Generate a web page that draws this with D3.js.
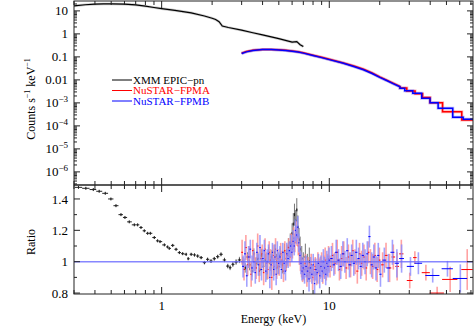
<!DOCTYPE html>
<html><head><meta charset="utf-8">
<script src="https://cdn.jsdelivr.net/npm/d3@7"></script>
<style>
body{margin:0;background:#fff}
svg{display:block}
text{font-family:"Liberation Serif","Times New Roman",serif;fill:#000}
</style>
</head><body>
<svg id="c" width="474" height="327"></svg>
<script>
// ---------------- data ----------------
// XMM EPIC-pn spectrum (keV, counts/s/keV)
const xmmSpecE = [0.3,0.35,0.4,0.45,0.5,0.6,0.7,0.8,0.9,1.0,1.2,1.5,1.8,2.0,2.1,2.2,2.3,2.5,3.0,3.5,4.0,5.0,6.0,6.4,6.7,7.0];
const xmmSpecC = [16.5,18.5,19.5,20,20,19.5,18.2,16,14,12.5,10.5,8.2,6.0,4.8,4.2,3.4,2.2,1.9,1.45,1.12,0.9,0.62,0.44,0.46,0.34,0.28];

// NuSTAR spectra, fine-binned part
const nuSpecE = [3.0,3.2,3.5,4.0,4.5,5.0,5.5,6.0,6.5,7.0,8.0,9.0,10,12,14,16,18,20,22,24,26.4];
const fpmaSpecC = [0.145,0.17,0.195,0.212,0.212,0.205,0.195,0.18,0.168,0.15,0.118,0.096,0.079,0.056,0.040,0.029,0.020,0.0135,0.0098,0.0072,0.0052];
const fpmbSpecC = [0.14,0.165,0.19,0.207,0.208,0.2,0.19,0.176,0.163,0.146,0.114,0.093,0.076,0.054,0.038,0.0275,0.019,0.0128,0.0094,0.0069,0.0050];
// NuSTAR coarse bins [lo, hi, counts]
const fpmaBins = [[26.4,29,0.0044],[29,32.5,0.0033],[32.5,36,0.0025],[36,39.9,0.0017],[39.9,47.4,0.00102],[47.4,61.7,0.00041],[61.7,72,0.00018]];
const fpmbBins = [[26.4,28.2,0.0043],[28.2,31.5,0.0034],[31.5,35.6,0.0026],[35.6,39.9,0.0016],[39.9,44.6,0.00102],[44.6,54.5,0.00058],[54.5,62.9,0.00024],[62.9,72,0.000195]];

// XMM ratio residuals
const xmmRatE = [0.319,0.353,0.391,0.424,0.461,0.498,0.534,0.572,0.604,0.641,0.687,0.719,0.753,0.788,0.825,0.856,0.904,0.946,0.978,1.038,1.086,1.11,1.164,1.219,1.276,1.335,1.40,1.44,1.50,1.57,1.64,1.72,1.80,1.88,1.97,2.06,2.16,2.26,2.37,2.48,2.56,2.66,2.78,2.91,
  3.05,3.15,3.25,3.35,3.45,3.55,3.65,3.75,3.85,3.95,4.05,4.15,4.25,4.35,4.45,4.55,4.65,4.75,4.85,4.95,5.1,5.25,5.4,5.55,5.7,5.85,6.0,6.1,6.2,6.3,6.4,6.5,6.6,6.7,6.85,7.0,7.2,7.4,7.6];
const xmmRatR = [1.474,1.468,1.46,1.449,1.436,1.40,1.357,1.30,1.282,1.254,1.235,1.235,1.218,1.197,1.181,1.181,1.154,1.133,1.128,1.107,1.094,1.085,1.104,1.079,1.058,1.051,1.047,1.019,1.047,1.043,1.036,1.026,0.994,1.015,1.004,1.019,1.032,1.047,1.011,0.972,0.962,0.983,0.998,1.011,
  1.0,0.96,1.03,0.98,0.94,1.05,0.99,1.02,0.95,1.04,0.97,1.01,0.93,1.05,0.99,1.03,0.96,1.06,1.0,0.97,1.04,0.98,1.06,1.02,1.09,1.12,1.18,1.24,1.3,1.26,1.33,1.22,1.14,1.08,1.02,0.98,1.03,0.96,1.0];
const xmmRatErr = [0.006,0.006,0.006,0.006,0.006,0.006,0.006,0.006,0.006,0.006,0.006,0.006,0.006,0.006,0.006,0.006,0.007,0.007,0.007,0.007,0.007,0.007,0.008,0.008,0.008,0.008,0.009,0.009,0.009,0.01,0.01,0.01,0.011,0.011,0.012,0.012,0.013,0.013,0.014,0.015,0.016,0.017,0.018,0.02,
  0.03,0.03,0.03,0.035,0.035,0.035,0.035,0.04,0.04,0.04,0.04,0.04,0.045,0.045,0.045,0.045,0.05,0.05,0.05,0.05,0.05,0.055,0.055,0.06,0.06,0.06,0.065,0.07,0.07,0.07,0.075,0.075,0.075,0.08,0.08,0.08,0.085,0.09,0.09];

// NuSTAR FPMA ratio residuals: fine bins
const fpmaRatE = [3.02,3.10,3.18,3.26,3.34,3.42,3.50,3.58,3.66,3.74,3.82,3.90,3.98,4.06,4.14,4.22,4.30,4.38,4.46,4.54,4.62,4.70,4.78,4.86,4.94,
  5.03,5.13,5.23,5.33,5.43,5.53,5.63,5.73,5.83,5.93,6.03,6.13,6.23,6.33,6.43,6.53,6.63,6.73,6.83,6.93,
  7.05,7.2,7.35,7.5,7.65,7.8,7.95,8.1,8.25,8.4,8.55,8.7,8.85,9.0,9.15,9.3,9.45,9.6,9.75,9.9,
  10.1,10.45,10.8,11.15,11.5,11.85,12.2,12.6,13.0,13.4,13.8,14.25,14.7,15.15,15.6,16.1,16.6,17.1,17.6,18.15,18.7,19.3,19.9];
const fpmaRatR = [1.06,0.95,1.09,0.98,1.03,0.92,1.07,1.0,0.96,1.1,0.94,1.02,1.05,0.93,1.08,0.99,0.95,1.06,1.01,0.9,1.04,0.97,1.08,0.96,1.02,
  0.97,1.05,1.01,0.94,1.07,1.0,1.04,1.09,1.03,1.11,1.08,1.15,1.12,1.19,1.16,1.1,1.05,1.0,0.97,0.93,
  0.95,0.99,0.91,0.96,0.93,0.98,0.9,0.95,0.97,0.92,0.99,0.94,0.96,1.0,0.93,0.97,1.01,0.95,0.98,1.02,
  0.97,1.04,0.99,1.06,0.95,1.02,1.05,0.96,1.03,0.98,1.07,1.0,0.94,1.05,0.99,1.03,0.96,1.06,1.0,0.97,1.04,0.95,1.01];
const fpmaRatErr = [0.08,0.07,0.08,0.07,0.07,0.08,0.07,0.06,0.07,0.08,0.07,0.07,0.06,0.08,0.07,0.07,0.06,0.07,0.07,0.08,0.07,0.06,0.07,0.07,0.06,
  0.06,0.07,0.06,0.07,0.06,0.06,0.07,0.06,0.06,0.07,0.06,0.07,0.06,0.07,0.06,0.06,0.07,0.06,0.07,0.06,
  0.07,0.06,0.07,0.07,0.06,0.07,0.08,0.07,0.06,0.07,0.07,0.08,0.07,0.06,0.07,0.07,0.08,0.07,0.07,0.08,
  0.07,0.08,0.07,0.08,0.07,0.08,0.08,0.07,0.08,0.08,0.07,0.08,0.08,0.07,0.08,0.08,0.08,0.07,0.08,0.08,0.08,0.08,0.08];
// FPMA coarse bins
const fpmaCoarseE = [20.8,21.8,22.9,24.1,25.4,26.9,30.2,32.4,37.7,44.0,52.6,66.5];
const fpmaCoarseDE = [0.5,0.5,0.55,0.6,0.65,0.8,1.2,0.8,2.1,4.3,5.5,5.2];
const fpmaCoarseR = [0.98,1.04,0.96,1.03,0.97,1.05,0.88,1.026,0.93,0.80,0.887,0.95];
const fpmaCoarseErr = [0.08,0.08,0.09,0.08,0.09,0.09,0.05,0.04,0.05,0.04,0.08,0.13];

// NuSTAR FPMB ratio residuals: fine bins
const fpmbRatE = [3.06,3.14,3.22,3.30,3.38,3.46,3.54,3.62,3.70,3.78,3.86,3.94,4.02,4.10,4.18,4.26,4.34,4.42,4.50,4.58,4.66,4.74,4.82,4.90,4.98,
  5.08,5.18,5.28,5.38,5.48,5.58,5.68,5.78,5.88,5.98,6.08,6.18,6.28,6.38,6.48,6.58,6.68,6.78,6.88,6.98,
  7.12,7.27,7.42,7.57,7.72,7.87,8.02,8.17,8.32,8.47,8.62,8.77,8.92,9.07,9.22,9.37,9.52,9.67,9.82,9.97,
  10.3,10.65,11.0,11.35,11.7,12.05,12.4,12.8,13.2,13.6,14.0,14.5,14.95,15.4,15.85,16.35,16.85,17.35,17.9,18.45,19.0,19.6,20.2];
const fpmbRatR = [0.97,1.05,0.91,1.03,1.08,0.96,1.0,0.93,1.06,0.98,1.09,0.95,1.02,1.07,0.94,1.0,1.05,0.9,0.98,1.06,0.95,1.03,0.92,1.07,0.99,
  1.03,0.95,1.06,0.99,0.94,1.05,1.02,1.07,1.1,1.06,1.13,1.1,1.2,1.17,1.22,1.12,1.04,0.99,0.94,0.96,
  0.92,0.97,0.94,0.89,0.96,0.92,0.98,0.86,0.95,0.93,0.99,0.91,0.97,0.94,1.0,0.96,0.92,0.99,0.97,1.01,
  1.02,0.98,1.06,1.01,0.97,1.05,1.0,1.07,0.98,1.04,0.99,1.06,1.02,0.97,1.04,1.0,1.05,1.16,0.98,1.03,0.96,1.04,0.92];
const fpmbRatErr = [0.07,0.08,0.07,0.07,0.06,0.08,0.07,0.07,0.06,0.07,0.08,0.07,0.06,0.07,0.07,0.08,0.06,0.07,0.07,0.06,0.07,0.08,0.07,0.06,0.07,
  0.07,0.06,0.06,0.07,0.06,0.07,0.06,0.06,0.07,0.06,0.07,0.06,0.07,0.06,0.07,0.06,0.06,0.07,0.06,0.07,
  0.06,0.07,0.07,0.08,0.07,0.06,0.07,0.08,0.07,0.07,0.06,0.08,0.07,0.07,0.08,0.07,0.07,0.08,0.07,0.08,
  0.08,0.07,0.08,0.07,0.08,0.08,0.07,0.08,0.08,0.07,0.08,0.08,0.07,0.08,0.08,0.08,0.08,0.07,0.08,0.08,0.08,0.08,0.08];
// FPMB coarse bins
const fpmbCoarseE = [21.3,22.5,23.8,25.3,27.0,30.5,34.0,41.4,50.7,60.5];
const fpmbCoarseDE = [0.55,0.6,0.65,0.75,0.9,1.5,1.8,4.0,3.9,6.0];
const fpmbCoarseR = [1.01,0.96,1.06,0.99,1.02,0.97,0.99,0.912,0.955,0.893];
const fpmbCoarseErr = [0.08,0.09,0.08,0.09,0.09,0.06,0.07,0.045,0.05,0.09];

// axes / tick labels
const xTickVals = [1,10];
const xTickLabels = ["1","10"];
const yTopTickVals = [10,1,0.1,0.01,1e-3,1e-4,1e-5,1e-6];
const yTopTickLabels = ["10","1","0.1","0.01","10^−3","10^−4","10^−5","10^−6"];
const yBotTickVals = [0.8,1,1.2,1.4];
const yBotTickLabels = ["0.8","1","1.2","1.4"];
const yBotMinor = [0.9,1.1,1.3];
const legendLabels = ["XMM EPIC−pn","NuSTAR−FPMA","NuSTAR−FPMB"];
const colors = {xmm:"#000000", a:"#ff0000", b:"#0000ff"};
const pale = {xmm:"#888888", a:"#ff8c8c", b:"#8c8cff"};

// ---------------- layout ----------------
const svg = d3.select("#c");
const L = 74, R = 473, T = 1, MID = 185, B = 294;
const x = d3.scaleLog().domain([0.3, 72]).range([L, R]);
const yT = d3.scaleLog().domain([Math.pow(10,-6.57), Math.pow(10,1.43)]).range([MID, T]);
const yB = d3.scaleLinear().domain([0.794, 1.489]).range([B, MID]);

const defs = svg.append("defs");
defs.append("clipPath").attr("id","cpT").append("rect").attr("x",L).attr("y",T).attr("width",R-L).attr("height",MID-T);
defs.append("clipPath").attr("id","cpB").append("rect").attr("x",L).attr("y",MID).attr("width",R-L).attr("height",B-MID);

const gT = svg.append("g").attr("clip-path","url(#cpT)");
const gB = svg.append("g").attr("clip-path","url(#cpB)");

// ---------------- top panel ----------------
const line = d3.line().x(d=>x(d[0])).y(d=>yT(d[1]));
const xmmPts = xmmSpecE.map((e,i)=>[e, xmmSpecC[i]]);
function nuPts(cs, bins){
  const p = nuSpecE.map((e,i)=>[e, cs[i]]);
  bins.forEach(b=>{ p.push([b[0], b[2]]); p.push([b[1], b[2]]); });
  return p;
}
const aPts = nuPts(fpmaSpecC, fpmaBins), bPts = nuPts(fpmbSpecC, fpmbBins);

gT.append("path").attr("d", line(xmmPts)).attr("fill","none").attr("stroke","#999").attr("stroke-width",2.6).attr("opacity",0.5);
gT.append("path").attr("d", line(xmmPts)).attr("fill","none").attr("stroke",colors.xmm).attr("stroke-width",1.2);
gT.append("path").attr("d", line(aPts)).attr("fill","none").attr("stroke",pale.a).attr("stroke-width",3).attr("opacity",0.6);
gT.append("path").attr("d", line(bPts)).attr("fill","none").attr("stroke",pale.b).attr("stroke-width",3).attr("opacity",0.6);
gT.append("path").attr("d", line(aPts)).attr("fill","none").attr("stroke",colors.a).attr("stroke-width",1.5);
gT.append("path").attr("d", line(bPts)).attr("fill","none").attr("stroke",colors.b).attr("stroke-width",1.5);

// legend
const legY = [80, 90.5, 101];
const legC = [colors.xmm, colors.a, colors.b];
legendLabels.forEach((t,i)=>{
  svg.append("line").attr("x1",112).attr("x2",132).attr("y1",legY[i]).attr("y2",legY[i]).attr("stroke",legC[i]).attr("stroke-width",1);
  svg.append("text").attr("x",133).attr("y",legY[i]).attr("dy","0.35em").attr("font-size",11).style("fill",legC[i]).text(t);
});

// ---------------- bottom panel ----------------
function neighbourBins(E){
  return E.map((e,i)=>{
    const prev = i>0 ? E[i-1] : null, next = i<E.length-1 ? E[i+1] : null;
    const lo = prev!=null ? Math.sqrt(prev*e) : e*e/Math.sqrt(next*e);
    const hi = next!=null ? Math.sqrt(next*e) : e*e/Math.sqrt(prev*e);
    return [lo, hi];
  });
}
function drawRes(E, Rv, Er, bins, col, pcol, vw, centre){
  const g = gB.append("g");
  E.forEach((e,i)=>{
    g.append("line").attr("x1",x(e)).attr("x2",x(e)).attr("y1",yB(Rv[i]-Er[i])).attr("y2",yB(Rv[i]+Er[i]))
      .attr("stroke",pcol).attr("stroke-width",vw).attr("opacity",0.8);
  });
  E.forEach((e,i)=>{
    g.append("line").attr("x1",x(bins[i][0])).attr("x2",x(bins[i][1])).attr("y1",yB(Rv[i])).attr("y2",yB(Rv[i]))
      .attr("stroke",col).attr("stroke-width",1);
    if (centre) g.append("line").attr("x1",x(e)).attr("x2",x(e)).attr("y1",yB(Rv[i])-1.5).attr("y2",yB(Rv[i])+1.5)
      .attr("stroke",col).attr("stroke-width",1);
  });
}
drawRes(xmmRatE, xmmRatR, xmmRatErr, neighbourBins(xmmRatE), "#222", "#555", 1, true);
drawRes(fpmaRatE, fpmaRatR, fpmaRatErr, neighbourBins(fpmaRatE), colors.a, pale.a, 1.6, false);
drawRes(fpmaCoarseE, fpmaCoarseR, fpmaCoarseErr, fpmaCoarseE.map((e,i)=>[e-fpmaCoarseDE[i], e+fpmaCoarseDE[i]]), colors.a, pale.a, 1.6, false);
drawRes(fpmbRatE, fpmbRatR, fpmbRatErr, neighbourBins(fpmbRatE), colors.b, pale.b, 1.6, false);
drawRes(fpmbCoarseE, fpmbCoarseR, fpmbCoarseErr, fpmbCoarseE.map((e,i)=>[e-fpmbCoarseDE[i], e+fpmbCoarseDE[i]]), colors.b, pale.b, 1.6, false);
gB.append("line").attr("x1",L).attr("x2",R).attr("y1",yB(1)).attr("y2",yB(1)).attr("stroke","#6a6aff").attr("stroke-width",1.5).attr("opacity",0.8);

// ---------------- axes / frame ----------------
const ax = svg.append("g").attr("stroke","#222").attr("stroke-width",1).attr("fill","none");
ax.append("rect").attr("x",L).attr("y",T).attr("width",R-L).attr("height",B-T);
ax.append("line").attr("x1",L).attr("x2",R).attr("y1",MID).attr("y2",MID).attr("stroke-width",1.3);

// x ticks
const xMinor = [];
[0.1,1,10].forEach(dec=>{ for(let k=2;k<=9;k++){ const v=k*dec; if(v>=0.3 && v<=72) xMinor.push(v);} });
function xTicks(y0, dir){
  xMinor.forEach(v=>ax.append("line").attr("x1",x(v)).attr("x2",x(v)).attr("y1",y0).attr("y2",y0+dir*4));
  xTickVals.forEach(v=>ax.append("line").attr("x1",x(v)).attr("x2",x(v)).attr("y1",y0).attr("y2",y0+dir*7));
}
xTicks(T, 1); xTicks(MID, -1); xTicks(MID, 1); xTicks(B, -1);

// y ticks top
for(let p=-7;p<=1;p++){
  for(let k=1;k<=9;k++){
    const v = k*Math.pow(10,p);
    if (v < yT.domain()[0] || v > yT.domain()[1]) continue;
    const len = k===1 ? 6 : 3;
    ax.append("line").attr("x1",L).attr("x2",L+len).attr("y1",yT(v)).attr("y2",yT(v));
    ax.append("line").attr("x1",R).attr("x2",R-len).attr("y1",yT(v)).attr("y2",yT(v));
  }
}
// y ticks bottom
yBotTickVals.forEach(v=>{
  ax.append("line").attr("x1",L).attr("x2",L+6).attr("y1",yB(v)).attr("y2",yB(v));
  ax.append("line").attr("x1",R).attr("x2",R-6).attr("y1",yB(v)).attr("y2",yB(v));
});
yBotMinor.forEach(v=>{
  ax.append("line").attr("x1",L).attr("x2",L+3).attr("y1",yB(v)).attr("y2",yB(v));
  ax.append("line").attr("x1",R).attr("x2",R-3).attr("y1",yB(v)).attr("y2",yB(v));
});

// tick labels
const FS = 13;
yTopTickVals.forEach((v,i)=>{
  const lab = yTopTickLabels[i];
  const t = svg.append("text").attr("x",68).attr("y",yT(v)).attr("dy","0.35em").attr("text-anchor","end").attr("font-size",FS);
  if (lab.includes("^")){
    const [b,e] = lab.split("^");
    t.append("tspan").text(b);
    t.append("tspan").attr("font-size",9).attr("dy",-5).text(e);
  } else t.text(lab);
});
yBotTickVals.forEach((v,i)=>{
  svg.append("text").attr("x",68).attr("y",yB(v)).attr("dy","0.35em").attr("text-anchor","end").attr("font-size",FS).text(yBotTickLabels[i]);
});
xTickVals.forEach((v,i)=>{
  svg.append("text").attr("x",x(v)).attr("y",310).attr("text-anchor","middle").attr("font-size",FS).text(xTickLabels[i]);
});

// axis titles
svg.append("text").attr("x",(L+R)/2).attr("y",323).attr("text-anchor","middle").attr("font-size",12).text("Energy (keV)");
const yl = svg.append("text").attr("transform","translate(35,99) rotate(-90)").attr("text-anchor","middle").attr("font-size",12);
yl.append("tspan").text("Counts s");
yl.append("tspan").attr("font-size",8).attr("dy",-5).text("−1");
yl.append("tspan").attr("dy",5).text(" keV");
yl.append("tspan").attr("font-size",8).attr("dy",-5).text("−1");
svg.append("text").attr("transform","translate(35,242) rotate(-90)").attr("text-anchor","middle").attr("font-size",12).text("Ratio");
</script>
</body></html>
